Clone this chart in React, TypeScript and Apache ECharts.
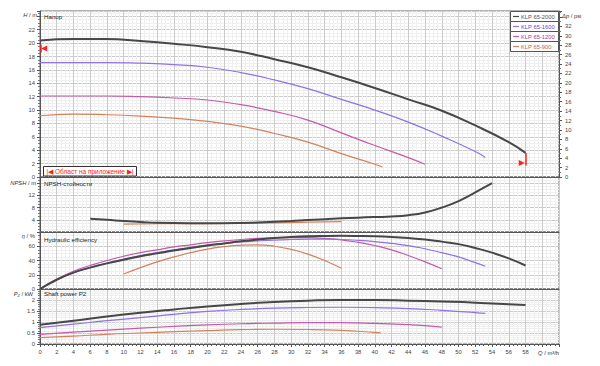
import React, { useEffect, useRef } from "react";
import * as echarts from "echarts";

// ---- data (Q in m³/h) ----
const modelNames = ["KLP 65-2000", "KLP 65-1600", "KLP 65-1200", "KLP 65-900"];

const head2000 = [[0, 20.4], [4, 20.6], [8, 20.6], [12, 20.3], [16, 19.9], [20, 19.4], [24, 18.7], [28, 17.6], [32, 16.4], [36, 14.9], [40, 13.3], [44, 11.6], [48, 9.9], [52, 7.7], [56, 5.2], [58, 3.6]];
const head1600 = [[0, 17.1], [4, 17.1], [8, 17.1], [12, 17.0], [16, 16.8], [20, 16.4], [24, 15.6], [28, 14.5], [32, 13.2], [36, 11.6], [40, 10.0], [44, 8.2], [48, 6.1], [52, 3.8], [53.2, 2.9]];
const head1200 = [[0, 12.1], [4, 12.1], [8, 12.1], [12, 12.0], [16, 11.8], [20, 11.5], [24, 10.8], [28, 9.8], [32, 8.5], [36, 6.6], [40, 4.7], [44, 2.9], [46, 1.9]];
const head900 = [[0, 9.15], [4, 9.4], [8, 9.3], [12, 9.1], [16, 8.8], [20, 8.3], [24, 7.6], [28, 6.5], [32, 5.2], [36, 3.5], [40, 1.9], [40.9, 1.5]];

const npsh2000 = [[6, 4.3], [8, 4.0], [10, 3.6], [12, 3.3], [14, 3.0], [18, 2.9], [22, 2.9], [26, 3.1], [30, 3.6], [34, 4.2], [38, 4.7], [42, 5.1], [44, 5.5], [46, 6.4], [48, 8.0], [50, 10.1], [52, 13.0], [54, 16.0]];
const npsh900 = [[10, 2.6], [14, 2.7], [18, 2.7], [22, 2.8], [26, 2.9], [30, 3.1], [34, 3.3], [36, 3.4]];

const eff2000 = [[0, 0], [2, 13], [4, 23], [6, 30], [8, 36], [10, 41], [12, 46], [14, 50], [16, 54], [18, 57.5], [20, 61], [22, 64], [24, 67], [26, 69.5], [28, 71.5], [30, 73], [32, 74], [34, 74.5], [36, 74.7], [38, 74.5], [40, 74], [42, 73], [44, 71.5], [46, 69.5], [48, 66.5], [50, 63], [52, 57.5], [54, 51], [56, 43], [58, 33]];
const eff1600 = [[0, 0], [2, 13], [4, 23], [6, 30.5], [8, 36.5], [10, 42], [12, 47], [14, 51], [16, 55], [18, 58.5], [20, 61.5], [22, 64], [24, 66], [26, 67.5], [28, 68.7], [30, 69.5], [32, 70], [34, 70], [36, 69.5], [38, 68.3], [40, 66.5], [42, 64], [44, 61], [46, 56.5], [48, 51], [50, 45], [52, 37], [53.2, 32]];
const eff1200 = [[0, 0], [2, 14], [4, 25], [6, 33], [8, 40], [10, 46], [12, 51], [14, 55], [16, 59], [18, 62], [20, 65], [22, 67.5], [24, 69.5], [26, 71], [28, 71.8], [30, 72.2], [32, 72], [34, 71], [36, 69], [38, 65.5], [40, 61], [42, 55], [44, 47], [46, 38], [48, 28.5]];
const eff900 = [[10, 21], [12, 30], [14, 38], [16, 45], [18, 51], [20, 56], [22, 59.5], [24, 61.5], [26, 62], [28, 60], [30, 55.5], [32, 49], [34, 40], [36, 29]];

const pow2000 = [[0, 0.87], [4, 1.06], [8, 1.25], [12, 1.42], [16, 1.57], [20, 1.71], [24, 1.82], [28, 1.91], [32, 1.97], [36, 2.0], [40, 2.0], [44, 1.97], [48, 1.93], [52, 1.88], [56, 1.81], [58, 1.77]];
const pow1600 = [[0, 0.74], [4, 0.9], [8, 1.06], [12, 1.2], [16, 1.35], [20, 1.48], [24, 1.57], [28, 1.63], [32, 1.66], [36, 1.67], [40, 1.65], [44, 1.61], [48, 1.53], [52, 1.43], [53.2, 1.39]];
const pow1200 = [[0, 0.44], [4, 0.54], [8, 0.63], [12, 0.72], [16, 0.8], [20, 0.87], [24, 0.92], [28, 0.95], [32, 0.97], [36, 0.97], [40, 0.94], [44, 0.88], [48, 0.77]];
const pow900 = [[0, 0.29], [4, 0.36], [8, 0.44], [12, 0.5], [16, 0.56], [20, 0.61], [24, 0.65], [28, 0.67], [32, 0.66], [36, 0.62], [40, 0.53], [40.7, 0.51]];

const panelTitles = ["Напор", "NPSH-стойности", "Hydraulic efficiency", "Shaft power P2"];
const operatingMarks = { leftQ: 0.5, leftH: 19.2, rightQ: 58, rightTopH: 3.6, rightBottomH: 1.7 };

// ---- styles ----
const lineColors = ["#474747", "#9072e2", "#c65aa8", "#d0845e"];
const textColors = ["#555555", "#6f3fcc", "#b0358e", "#b8683c"];
const lineWidths = [2, 1.2, 1.2, 1.2];
const FONT = "Liberation Sans, Arial, sans-serif";

const grids = [
  { left: 40, top: 11, width: 519, height: 166 },
  { left: 40, top: 177, width: 519, height: 55 },
  { left: 40, top: 232, width: 519, height: 57 },
  { left: 40, top: 289, width: 519, height: 55 },
];

export default function App() {
  const ref = useRef<HTMLDivElement>(null);
  useEffect(() => {
    document.body.style.margin = "0";
    if (!ref.current) return;
    const chart = echarts.init(ref.current, undefined, { renderer: "svg" });

    const majorGrid = { show: true, lineStyle: { color: "#cbcbcb", width: 1 } };
    const minorGrid = { show: true, lineStyle: { color: "#efefef", width: 1 } };
    const labelStyle = { fontSize: 5.8, color: "#444", fontFamily: FONT };

    const xAxes = grids.map((_, i) => ({
      type: "value",
      gridIndex: i,
      min: 0,
      max: 62,
      interval: 2,
      axisLine: { show: true, onZero: false, lineStyle: { color: "#555", width: 1 } },
      axisTick: { show: i === 3, length: 3, lineStyle: { color: "#555" } },
      minorTick: { show: i === 3, splitNumber: 4, length: 2, lineStyle: { color: "#555" } },
      axisLabel: {
        show: i === 3,
        margin: 5,
        ...labelStyle,
        formatter: (v: number) => (v <= 58 ? String(v) : ""),
      },
      splitLine: majorGrid,
      minorSplitLine: minorGrid,
    }));

    const yBase = (gridIndex: number, min: number, max: number, interval: number, maxLabel: number, minLabel: number, minorSplit: number) => ({
      type: "value",
      gridIndex,
      min,
      max,
      interval,
      axisLine: { show: true, onZero: false, lineStyle: { color: "#555", width: 1 } },
      axisTick: { show: true, length: 3, lineStyle: { color: "#555" } },
      minorTick: { show: true, splitNumber: minorSplit, length: 2, lineStyle: { color: "#777" } },
      axisLabel: {
        margin: 5,
        ...labelStyle,
        formatter: (v: number) => (v <= maxLabel + 1e-6 && v >= minLabel - 1e-6 ? String(v) : ""),
      },
      splitLine: majorGrid,
      minorSplitLine: minorGrid,
    });

    const yAxes: any[] = [
      yBase(0, 0, 24.8, 2, 22, 0, 4),
      {
        ...yBase(0, 0, 24.8 * 1.4219, 2, 32, 0, 2),
        position: "right",
        splitLine: { show: false },
        minorSplitLine: { show: false },
        axisLabel: { margin: 6, ...labelStyle, formatter: (v: number) => (v <= 32 ? String(v) : "") },
      },
      yBase(1, 0, 18, 4, 12, 4, 4),
      yBase(2, 0, 80, 20, 60, 0, 4),
      yBase(3, 0, 2.5, 0.5, 2, 0, 5),
    ];

    const panels = [
      { yIndex: 0, sets: [head2000, head1600, head1200, head900] },
      { yIndex: 2, sets: [npsh2000, null, null, npsh900] },
      { yIndex: 3, sets: [eff2000, eff1600, eff1200, eff900] },
      { yIndex: 4, sets: [pow2000, pow1600, pow1200, pow900] },
    ];

    const series: any[] = [];
    panels.forEach((p, pi) => {
      p.sets.forEach((data, mi) => {
        if (!data) return;
        const s: any = {
          type: "line",
          name: modelNames[mi],
          xAxisIndex: pi,
          yAxisIndex: p.yIndex,
          data,
          smooth: 0.5,
          showSymbol: false,
          silent: true,
          lineStyle: { color: lineColors[mi], width: lineWidths[mi] },
          itemStyle: { color: lineColors[mi] },
          z: 10 - mi,
        };
        if (pi === 0 && mi === 0) {
          const red = "#ff2020";
          s.markPoint = {
            silent: true,
            label: { show: false },
            data: [
              { coord: [operatingMarks.leftQ, operatingMarks.leftH], symbol: "triangle", symbolSize: [6, 6], symbolRotate: 90, itemStyle: { color: red } },
              { coord: [operatingMarks.rightQ - 0.45, operatingMarks.rightBottomH + 0.4], symbol: "triangle", symbolSize: [6, 6], symbolRotate: -90, itemStyle: { color: red } },
            ],
          };
          s.markLine = {
            silent: true,
            symbol: "none",
            label: { show: false },
            lineStyle: { color: red, width: 1.5, type: "solid" },
            data: [
              [{ coord: [operatingMarks.rightQ, operatingMarks.rightTopH] }, { coord: [operatingMarks.rightQ, operatingMarks.rightBottomH] }],
              [{ coord: [0.08, operatingMarks.leftH + 0.6] }, { coord: [0.08, operatingMarks.leftH - 0.6] }],
            ],
          };
        }
        series.push(s);
      });
    });

    const titleTops = [13, 180.5, 236, 290.5];
    const title = panelTitles.map((t, i) => ({
      text: t,
      left: 44,
      top: titleTops[i],
      padding: 0,
      textStyle: { fontSize: 6.2, fontWeight: "normal", color: "#222", fontFamily: FONT },
    }));

    const nameText = (x: number, y: number, rich: string, align: string) => ({
      type: "text",
      x,
      y,
      style: {
        text: rich,
        align,
        verticalAlign: "middle",
        fontSize: 5.8,
        fill: "#333",
        fontFamily: FONT,
        rich: { i: { fontStyle: "italic", fontSize: 5.8, fill: "#333", fontFamily: FONT } },
      },
    });

    const legendItems: any[] = [];
    modelNames.forEach((n, i) => {
      const y = 11 + i * 10;
      legendItems.push({ type: "rect", shape: { x: 510.5, y: y + 0.5, width: 48, height: 10 }, style: { fill: "#fff", stroke: "#555", lineWidth: 1 }, z: 50 });
      legendItems.push({ type: "line", shape: { x1: 513, y1: y + 5.5, x2: 519, y2: y + 5.5 }, style: { stroke: lineColors[i], lineWidth: 1.2 }, z: 51 });
      legendItems.push({ type: "text", x: 521, y: y + 5.5, style: { text: n, fontSize: 5.8, fill: textColors[i], fontFamily: FONT, verticalAlign: "middle" }, z: 51 });
    });

    const graphic: any[] = [
      nameText(37, 15, "{i|H} / m", "right"),
      nameText(36, 182.5, "{i|NPSH} / m", "right"),
      nameText(35, 236, "{i|η} / %", "right"),
      nameText(33, 293.5, "{i|P₂} / kW", "right"),
      nameText(562, 15.5, "{i|Δp} / psi", "left"),
      nameText(559, 353, "{i|Q} / m³/h", "right"),
      ...legendItems,
      { type: "rect", shape: { x: 43.5, y: 166.5, width: 93, height: 9.5 }, style: { fill: "#fff", stroke: "#333", lineWidth: 1 }, z: 50 },
      { type: "text", x: 90, y: 171.5, style: { text: "|◀ Област на приложение ▶|", align: "center", verticalAlign: "middle", fontSize: 6.5, fill: "#ff2020", fontFamily: FONT }, z: 51 },
    ];

    chart.setOption({
      animation: false,
      backgroundColor: "#ffffff",
      textStyle: { fontFamily: FONT },
      title,
      grid: grids.map((g) => ({ ...g, show: true, borderColor: "#666", borderWidth: 1, backgroundColor: "transparent" })),
      xAxis: xAxes,
      yAxis: yAxes,
      series,
      graphic,
    });
    return () => chart.dispose();
  }, []);
  return <div ref={ref} style={{ width: 600, height: 366 }} />;
}
